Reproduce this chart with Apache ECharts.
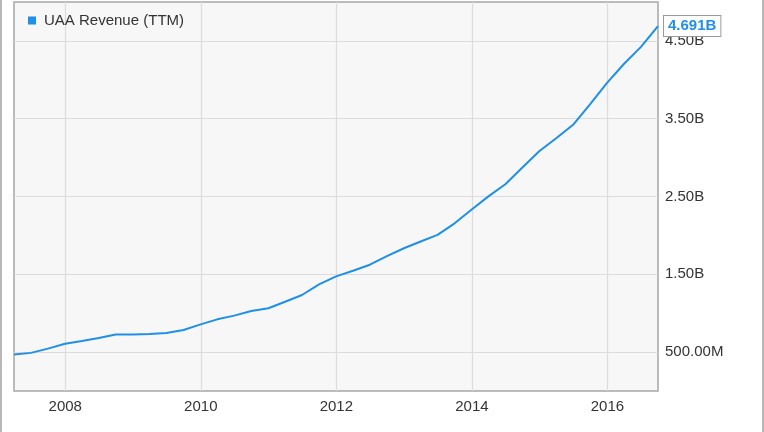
<!DOCTYPE html>
<html>
<head>
<meta charset="utf-8">
<script src="https://cdn.jsdelivr.net/npm/echarts@6/dist/echarts.min.js"></script>
<style>
html,body{margin:0;padding:0;background:#fff;}
#c{width:764px;height:432px;}
</style>
</head>
<body>
<div id="c"></div>
<script>
// Quarter-end dates (TTM periods)
const dates = [
 '2007-03-31','2007-06-30','2007-09-30','2007-12-31',
 '2008-03-31','2008-06-30','2008-09-30','2008-12-31',
 '2009-03-31','2009-06-30','2009-09-30','2009-12-31',
 '2010-03-31','2010-06-30','2010-09-30','2010-12-31',
 '2011-03-31','2011-06-30','2011-09-30','2011-12-31',
 '2012-03-31','2012-06-30','2012-09-30','2012-12-31',
 '2013-03-31','2013-06-30','2013-09-30','2013-12-31',
 '2014-03-31','2014-06-30','2014-09-30','2014-12-31',
 '2015-03-31','2015-06-30','2015-09-30','2015-12-31',
 '2016-03-31','2016-06-30','2016-09-30'
];
// UAA Revenue (TTM), billions USD
const revenue = [
 0.470, 0.490, 0.545, 0.607,
 0.642, 0.682, 0.726, 0.725,
 0.733, 0.745, 0.784, 0.856,
 0.921, 0.969, 1.028, 1.064,
 1.147, 1.234, 1.371, 1.473,
 1.545, 1.623, 1.733, 1.835,
 1.922, 2.007, 2.155, 2.332,
 2.502, 2.657, 2.872, 3.084,
 3.248, 3.422, 3.688, 3.963,
 4.206, 4.423, 4.691
];
const xTickYears = [2008, 2010, 2012, 2014, 2016];
const yTickValues = [0.5, 1.5, 2.5, 3.5, 4.5];
const seriesName = 'UAA Revenue (TTM)';

function toDecimalYear(s) {
  const [y, m, d] = s.split('-').map(Number);
  const t = Date.UTC(y, m - 1, d);
  const a = Date.UTC(y, 0, 1), b = Date.UTC(y + 1, 0, 1);
  return y + (t - a) / (b - a);
}
function fmt(v) {
  return v < 1 ? (v * 1000).toFixed(2) + 'M' : v.toFixed(2) + 'B';
}

const color = '#1f8fe8';
const font = "'Liberation Sans', Arial, sans-serif";
const seriesData = dates.map((d, i) => [toDecimalYear(d), revenue[i]]);

const chart = echarts.init(document.getElementById('c'), null, {renderer: 'canvas'});
chart.setOption({
  animation: false,
  backgroundColor: '#ffffff',
  textStyle: {fontFamily: font},
  grid: {
    left: 14, right: 106, top: 2, bottom: 41,
    show: true, backgroundColor: '#f7f7f7',
    borderColor: '#a6a6a6', borderWidth: 1.5
  },
  legend: {
    show: true, left: 23, top: 8,
    icon: 'rect', itemWidth: 8, itemHeight: 8,
    textStyle: {fontSize: 15, color: '#333', fontFamily: font, padding: [0, 0, 0, 3]},
    data: [seriesName]
  },
  xAxis: {
    type: 'value', min: 'dataMin', max: 'dataMax',
    axisLine: {show: false},
    axisTick: {show: false, customValues: xTickYears},
    axisLabel: {customValues: xTickYears, fontSize: 15, color: '#333', margin: 8, fontFamily: font,
      formatter: v => String(Math.round(v))},
    splitLine: {show: true, lineStyle: {color: '#dcdcdc', width: 1.2}}
  },
  yAxis: {
    type: 'value', position: 'right', min: 0, max: 5,
    axisLine: {show: false},
    axisTick: {show: false, customValues: yTickValues},
    axisLabel: {customValues: yTickValues, fontSize: 15, color: '#333', margin: 7, fontFamily: font,
      formatter: v => fmt(v)},
    splitLine: {show: true, lineStyle: {color: '#dcdcdc', width: 1.2}}
  },
  series: [{
    name: seriesName, type: 'line',
    data: seriesData,
    showSymbol: false, symbol: 'none',
    color: color,
    lineStyle: {color: color, width: 2},
    endLabel: {
      show: true,
      formatter: p => revenue[revenue.length - 1].toFixed(3) + 'B',
      color: color, fontWeight: 'bold', fontSize: 15, fontFamily: font,
      backgroundColor: '#ffffff', borderColor: '#9a9a9a', borderWidth: 1,
      padding: [3, 4, 2, 4], distance: 6
    }
  }],
  graphic: [
    {type: 'line', shape: {x1: 1, y1: 0, x2: 1, y2: 432}, style: {stroke: '#a0a0a0', lineWidth: 1.5}, silent: true},
    {type: 'line', shape: {x1: 763, y1: 0, x2: 763, y2: 432}, style: {stroke: '#a0a0a0', lineWidth: 1.5}, silent: true}
  ]
});
</script>
</body>
</html>
